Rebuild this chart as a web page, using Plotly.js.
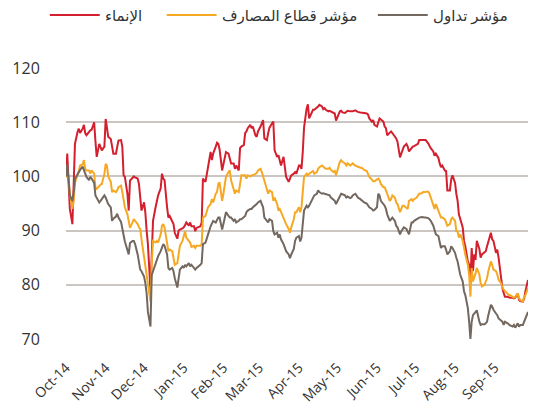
<!DOCTYPE html>
<html>
<head>
<meta charset="utf-8">
<script src="https://cdn.plot.ly/plotly-3.0.1.min.js"></script>
<style>html,body{margin:0;padding:0;background:#fff;}#chart{width:547px;height:407px;}</style>
</head>
<body>
<div id="chart"></div>
<script>
// Trading dates
const dates = [
'2014-10-01','2014-10-02','2014-10-03','2014-10-04','2014-10-06','2014-10-07','2014-10-08','2014-10-10','2014-10-11','2014-10-12','2014-10-14','2014-10-15','2014-10-16','2014-10-17','2014-10-19','2014-10-20','2014-10-21','2014-10-23','2014-10-24','2014-10-25','2014-10-27','2014-10-28','2014-10-29','2014-10-31',
'2014-11-01','2014-11-02','2014-11-03','2014-11-05','2014-11-06','2014-11-07','2014-11-09','2014-11-10','2014-11-11','2014-11-13','2014-11-14','2014-11-15','2014-11-16','2014-11-18','2014-11-19','2014-11-20','2014-11-22','2014-11-23','2014-11-24','2014-11-26','2014-11-27','2014-11-28','2014-11-29',
'2014-12-01','2014-12-02','2014-12-03','2014-12-04','2014-12-06','2014-12-07','2014-12-08','2014-12-10','2014-12-11','2014-12-12','2014-12-14','2014-12-15','2014-12-16','2014-12-17','2014-12-19','2014-12-20','2014-12-21','2014-12-23','2014-12-24','2014-12-25','2014-12-27','2014-12-28','2014-12-29','2014-12-31',
'2015-01-01','2015-01-02','2015-01-03','2015-01-05','2015-01-06','2015-01-07','2015-01-09','2015-01-10','2015-01-11','2015-01-13','2015-01-14','2015-01-15','2015-01-16','2015-01-18','2015-01-19','2015-01-20','2015-01-22','2015-01-23','2015-01-24','2015-01-26','2015-01-27','2015-01-28','2015-01-29',
'2015-01-31','2015-02-01','2015-02-02','2015-02-03','2015-02-05','2015-02-06','2015-02-07','2015-02-09','2015-02-10','2015-02-11','2015-02-13','2015-02-14','2015-02-15','2015-02-17','2015-02-18','2015-02-19','2015-02-20','2015-02-22','2015-02-23','2015-02-24','2015-02-26','2015-02-27','2015-02-28',
'2015-03-02','2015-03-03','2015-03-04','2015-03-05','2015-03-07','2015-03-08','2015-03-09','2015-03-11','2015-03-12','2015-03-13','2015-03-15','2015-03-16','2015-03-17','2015-03-18','2015-03-20','2015-03-21','2015-03-22','2015-03-24','2015-03-25','2015-03-26','2015-03-28','2015-03-29','2015-03-30','2015-04-01',
'2015-04-02','2015-04-03','2015-04-04','2015-04-05','2015-04-07','2015-04-08','2015-04-09','2015-04-11','2015-04-12','2015-04-13','2015-04-15','2015-04-16','2015-04-17','2015-04-19','2015-04-20','2015-04-21','2015-04-22','2015-04-24','2015-04-25','2015-04-26','2015-04-28','2015-04-29','2015-04-30',
'2015-05-02','2015-05-03','2015-05-04','2015-05-05','2015-05-07','2015-05-08','2015-05-09','2015-05-11','2015-05-12','2015-05-13','2015-05-15','2015-05-16','2015-05-17','2015-05-19','2015-05-20','2015-05-21','2015-05-22','2015-05-24','2015-05-25','2015-05-26','2015-05-28','2015-05-29','2015-05-30','2015-06-01',
'2015-06-02','2015-06-03','2015-06-04','2015-06-06','2015-06-07','2015-06-08','2015-06-09','2015-06-11','2015-06-12','2015-06-13','2015-06-15','2015-06-16','2015-06-17','2015-06-19','2015-06-20','2015-06-21','2015-06-22','2015-06-24','2015-06-25','2015-06-26','2015-06-28','2015-06-29','2015-06-30',
'2015-07-02','2015-07-03','2015-07-04','2015-07-06','2015-07-07','2015-07-08','2015-07-09','2015-07-11','2015-07-12','2015-07-13','2015-07-15','2015-07-16','2015-07-17','2015-07-19','2015-07-20','2015-07-21','2015-07-22','2015-07-24','2015-07-25','2015-07-26','2015-07-28','2015-07-29','2015-07-30','2015-08-01',
'2015-08-02','2015-08-03','2015-08-04','2015-08-05','2015-08-07','2015-08-08','2015-08-09','2015-08-11','2015-08-12','2015-08-13','2015-08-14','2015-08-15','2015-08-16','2015-08-17','2015-08-18','2015-08-20','2015-08-21','2015-08-22','2015-08-24','2015-08-25','2015-08-26','2015-08-27','2015-08-29','2015-08-30','2015-08-31',
'2015-09-02','2015-09-03','2015-09-04','2015-09-06','2015-09-07','2015-09-08','2015-09-09','2015-09-11','2015-09-12','2015-09-13','2015-09-15','2015-09-16','2015-09-17','2015-09-19','2015-09-20','2015-09-21','2015-09-23','2015-09-24','2015-09-25','2015-09-27'
];

// الإنماء
const alinma = [
100.0,104.2,99.0,94.0,91.2,98.0,106.0,108.2,108.8,108.0,108.8,109.5,108.0,107.6,108.3,108.5,108.6,110.0,106.5,103.6,106.0,105.2,104.8,105.5,110.6,109.0,107.3,106.9,105.0,104.2,104.2,105.5,106.6,106.7,105.5,100.2,99.9,96.8,93.7,99.2,99.8,100.0,99.8,99.6,98.6,96.0,93.7,
95.2,93.3,90.0,87.5,79.0,85.0,91.8,94.3,95.8,96.5,97.8,100.5,99.6,99.3,94.3,92.4,92.7,91.8,91.2,89.6,88.5,90.0,90.2,90.4,90.6,91.0,91.5,90.9,91.5,90.8,90.8,89.9,90.5,90.7,90.8,91.5,99.6,99.0,100.5,102.4,104.5,103.0,104.2,105.5,106.2,106.0,105.0,
101.1,102.4,103.3,104.5,104.2,103.3,102.4,102.4,101.4,102.0,101.1,105.2,105.5,105.8,108.0,108.3,108.9,109.5,108.9,109.2,107.6,107.3,108.3,109.2,109.8,110.4,107.0,106.7,108.0,109.0,109.8,110.1,104.8,103.6,103.9,103.0,102.0,103.6,101.4,99.9,99.0,99.6,100.2,100.5,100.8,100.5,102.0,
102.0,101.4,104.5,109.0,112.5,113.3,110.7,111.7,112.3,112.3,112.6,112.9,113.2,112.9,112.4,112.6,112.3,112.0,112.1,112.0,111.7,111.6,110.3,111.6,112.0,112.1,111.8,111.7,112.0,112.1,112.0,112.0,112.0,112.2,112.0,111.9,111.8,111.8,111.7,111.7,111.6,111.4,110.7,110.1,110.4,109.5,109.2,
109.8,110.7,110.5,110.1,109.2,108.9,107.6,108.0,108.3,108.0,107.3,107.0,106.4,103.5,104.2,104.8,105.5,106.0,105.5,104.6,105.3,105.5,105.6,105.8,106.0,106.7,106.7,106.7,106.7,106.7,106.1,105.5,105.2,104.6,103.8,104.2,103.4,102.4,101.7,102.0,101.1,101.0,97.4,97.4,99.5,100.2,98.8,
96.8,95.5,93.0,92.1,90.6,88.1,87.1,84.3,83.7,80.6,86.8,82.5,85.6,84.6,88.1,86.6,85.0,85.6,86.1,86.2,87.1,87.8,89.6,88.4,88.1,85.9,86.5,85.0,81.0,79.4,78.5,77.8,77.8,77.7,77.6,77.6,77.5,77.6,78.4,77.2,77.0,76.9,77.5,78.8,80.9
];

// مؤشر قطاع المصارف
const banks = [
100.0,100.0,99.5,96.8,94.0,95.5,98.9,100.2,101.0,102.0,102.2,103.0,101.4,101.1,101.1,100.5,101.1,100.5,98.0,97.7,98.3,98.5,98.6,100.5,102.3,102.0,100.0,99.0,97.1,97.4,97.1,97.4,98.0,98.3,97.1,95.2,94.3,93.0,91.5,90.5,91.5,92.1,91.8,91.2,90.6,90.3,88.4,
85.0,83.4,81.2,80.0,76.9,84.0,88.1,87.8,88.1,87.8,89.3,90.9,91.2,90.6,87.8,86.2,86.5,86.2,85.0,83.7,84.0,85.6,87.2,88.1,89.0,89.9,88.7,88.1,87.8,87.0,87.2,86.8,87.2,87.2,87.2,87.5,92.4,92.7,93.4,94.3,94.9,95.8,95.2,96.8,97.1,98.6,98.9,
95.5,96.8,98.6,99.9,100.8,101.1,99.3,97.4,96.8,97.4,97.1,98.6,100.2,100.2,100.2,99.6,100.2,100.0,100.2,100.2,100.5,100.6,101.1,101.4,100.8,99.9,99.3,97.7,96.8,97.4,97.1,95.5,96.1,94.9,93.7,94.0,93.4,92.4,91.6,91.2,90.3,89.6,90.6,92.1,93.4,93.4,94.3,
93.4,94.3,97.5,99.9,100.5,100.2,100.5,100.8,101.0,100.5,100.8,101.4,101.7,102.0,101.7,101.6,101.4,101.4,101.6,101.2,100.8,101.0,100.2,102.0,102.7,103.0,102.7,102.4,102.0,102.4,102.0,102.2,102.4,102.0,101.9,101.7,101.6,101.6,101.4,101.2,101.0,100.5,99.9,99.4,99.1,99.1,99.4,
99.6,99.3,98.6,98.0,98.0,97.4,96.8,95.5,95.8,96.5,96.1,95.2,94.9,93.4,94.0,94.6,94.6,94.3,94.0,95.5,95.8,95.5,95.8,96.1,96.5,96.8,96.9,97.1,97.1,97.1,97.2,96.8,96.1,94.9,94.0,94.9,93.7,93.0,92.4,92.4,92.1,91.5,90.9,91.2,92.1,92.4,91.8,
89.9,89.9,88.7,89.3,88.1,86.8,85.6,83.7,81.9,77.8,83.1,80.6,81.2,82.1,83.1,81.9,80.3,79.7,80.0,80.6,81.2,82.5,84.3,83.7,82.8,82.5,81.9,80.9,80.3,79.4,79.1,78.8,78.4,78.1,78.1,77.8,77.6,77.8,78.4,77.5,77.2,76.9,77.8,78.1,79.4
];

// مؤشر تداول
const tasi = [
100.0,102.2,99.5,96.5,95.5,97.0,99.5,100.5,101.0,101.2,101.8,101.2,100.5,99.9,99.3,99.9,99.6,98.8,96.5,96.1,95.2,95.5,95.8,96.5,96.1,95.5,94.9,94.3,91.8,92.2,92.6,93.1,92.4,91.6,90.0,89.2,88.0,86.6,85.6,87.7,88.1,88.1,87.5,85.6,84.0,82.8,82.5,
81.5,80.3,78.4,75.0,72.3,81.8,82.5,83.7,84.6,85.3,86.2,86.8,87.5,87.2,85.6,83.1,82.8,83.1,82.5,81.2,79.5,81.2,82.8,83.4,83.1,83.7,83.4,84.0,83.4,83.7,83.1,82.8,83.1,83.4,83.7,84.0,87.5,87.8,88.4,89.3,90.8,91.2,91.8,91.5,92.1,92.4,92.4,
90.2,91.2,92.1,93.4,92.7,92.4,92.4,91.8,92.1,91.5,91.8,92.1,92.1,92.4,92.7,93.4,93.7,94.0,94.0,94.3,94.6,94.9,95.2,95.5,94.9,94.3,92.4,91.8,91.5,92.1,91.8,89.9,89.3,89.6,88.7,89.3,88.4,87.5,86.8,86.2,85.6,84.9,85.6,86.6,88.1,88.7,89.0,
88.0,88.7,91.0,93.7,94.6,94.3,94.6,95.5,96.1,96.5,96.8,97.4,97.1,96.8,96.9,96.8,96.7,96.5,96.5,96.1,95.8,95.5,94.9,96.0,96.5,96.8,96.7,96.5,96.1,96.3,96.0,96.1,96.5,96.8,96.5,96.1,95.8,95.6,95.4,95.2,95.0,94.6,94.3,94.0,93.7,93.8,94.3,
96.8,96.5,95.5,94.9,94.6,94.0,93.0,91.8,92.1,92.4,91.8,90.9,90.6,89.3,89.9,90.3,90.6,90.3,89.9,89.3,91.5,91.5,91.8,92.1,92.1,92.4,92.5,92.4,92.4,92.4,92.3,92.1,91.8,90.9,89.9,89.3,89.0,88.1,86.8,87.1,87.1,86.5,85.6,86.2,87.1,86.8,85.9,
85.0,84.3,83.1,81.9,80.6,78.8,78.1,75.7,73.2,70.0,73.2,74.4,74.7,75.0,75.3,73.2,72.6,72.7,72.7,72.9,73.2,74.4,76.3,76.0,75.4,74.7,74.4,73.8,73.5,73.2,72.6,73.2,72.9,72.6,72.5,72.3,72.6,72.1,72.9,72.3,72.6,72.6,73.2,73.8,75.0
];

const seriesNames = ['الإنماء', 'مؤشر قطاع المصارف', 'مؤشر تداول'];
const monthTicks = ['2014-10-01','2014-11-01','2014-12-01','2015-01-01','2015-02-01','2015-03-01','2015-04-01','2015-05-01','2015-06-01','2015-07-01','2015-08-01','2015-09-01'];
const monthLabels = ['Oct-14','Nov-14','Dec-14','Jan-15','Feb-15','Mar-15','Apr-15','May-15','Jun-15','Jul-15','Aug-15','Sep-15'];
const yTicks = [70, 80, 90, 100, 110, 120];

const colors = ['#d41f2e', '#f6a823', '#736860'];
const values = [alinma, banks, tasi];

const traces = values.map((v, i) => ({
  type: 'scatter', mode: 'lines', x: dates, y: v, name: seriesNames[i],
  line: {color: colors[i], width: 2}, hoverinfo: 'skip', showlegend: false
}));

// Legend drawn in paper space (key line on the left of each label, like the original)
const keyStart = [-0.035, 0.218, 0.675];   // paper x where each key line starts
const keyLen = 0.108;                        // key line length (paper units)
const keyY = 1.196;
const shapes = keyStart.map((x0, i) => ({
  type: 'line', xref: 'paper', yref: 'paper', x0: x0, x1: x0 + keyLen, y0: keyY, y1: keyY,
  line: {color: colors[i], width: 2}
}));
const annotations = keyStart.map((x0, i) => ({
  xref: 'paper', yref: 'paper', x: x0 + keyLen + 0.008, y: keyY, xanchor: 'left', yanchor: 'middle',
  text: seriesNames[i], showarrow: false, font: {size: 15, color: '#333333'}
}));

const layout = {
  width: 547, height: 407,
  margin: {l: 66, r: 19, t: 68, b: 68},
  paper_bgcolor: '#ffffff', plot_bgcolor: '#ffffff',
  font: {family: 'Open Sans, DejaVu Sans, sans-serif', color: '#333333'},
  showlegend: false,
  shapes: shapes,
  annotations: annotations,
  xaxis: {
    type: 'date', range: ['2014-10-01', '2015-09-27'],
    tickmode: 'array', tickvals: monthTicks, ticktext: monthLabels,
    tickangle: -45, tickfont: {size: 14, color: '#333333'},
    showgrid: false, zeroline: false, showline: false,
    ticks: 'outside', ticklen: 14, tickcolor: 'rgba(0,0,0,0)'
  },
  yaxis: {
    range: [70, 120], tickmode: 'array', tickvals: yTicks,
    tickfont: {size: 16, color: '#333333'},
    showgrid: true, gridcolor: '#cbc6c2', gridwidth: 2,
    zeroline: false, showline: false,
    ticks: 'outside', ticklen: 22, tickcolor: 'rgba(0,0,0,0)'
  }
};

Plotly.newPlot('chart', traces, layout, {displayModeBar: false, staticPlot: true});
</script>
</body>
</html>
